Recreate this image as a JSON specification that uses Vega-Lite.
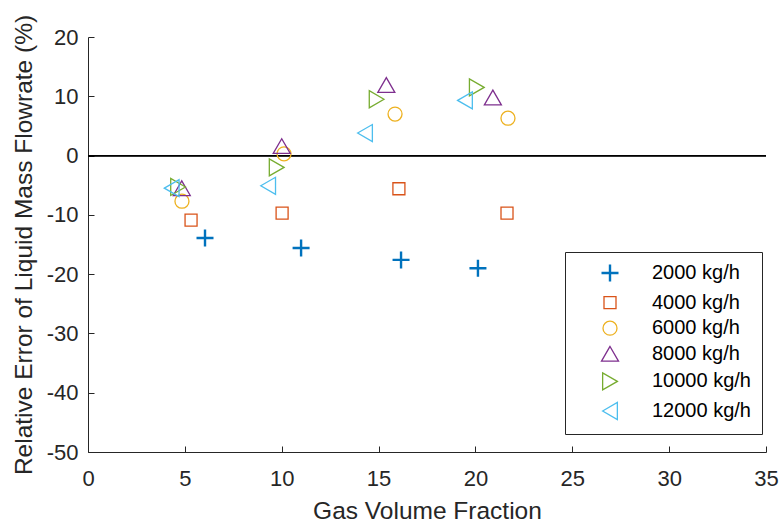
{
  "$schema": "https://vega.github.io/schema/vega-lite/v6.json",
  "width": 678,
  "height": 415,
  "autosize": {"type": "none"},
  "padding": {"left": 88, "top": 37, "right": 13, "bottom": 73},
  "background": "white",
  "config": {
    "view": {"stroke": null},
    "font": "Liberation Sans",
    "axis": {
      "domainColor": "#262626",
      "tickColor": "#262626",
      "labelColor": "#262626",
      "titleColor": "#262626",
      "labelFontSize": 22,
      "titleFontSize": 24.5,
      "titleFontWeight": "normal",
      "labelFlush": false,
      "labelOverlap": false,
      "grid": false,
      "tickSize": -6,
      "domainWidth": 1,
      "tickWidth": 1
    }
  },
  "data": {
    "values": [
      {"gvf": 6.04, "err": -13.9, "flow": "2000 kg/h"},
      {"gvf": 11.0, "err": -15.6, "flow": "2000 kg/h"},
      {"gvf": 16.16, "err": -17.6, "flow": "2000 kg/h"},
      {"gvf": 20.13, "err": -19.0, "flow": "2000 kg/h"},
      {"gvf": 5.32, "err": -10.9, "flow": "4000 kg/h"},
      {"gvf": 10.02, "err": -9.7, "flow": "4000 kg/h"},
      {"gvf": 16.05, "err": -5.6, "flow": "4000 kg/h"},
      {"gvf": 21.63, "err": -9.7, "flow": "4000 kg/h"},
      {"gvf": 4.85, "err": -7.7, "flow": "6000 kg/h"},
      {"gvf": 10.12, "err": 0.3, "flow": "6000 kg/h"},
      {"gvf": 15.85, "err": 7.0, "flow": "6000 kg/h"},
      {"gvf": 21.68, "err": 6.3, "flow": "6000 kg/h"},
      {"gvf": 4.84, "err": -5.5, "flow": "8000 kg/h"},
      {"gvf": 10.0, "err": 1.6, "flow": "8000 kg/h"},
      {"gvf": 15.4, "err": 11.9, "flow": "8000 kg/h"},
      {"gvf": 20.9, "err": 9.8, "flow": "8000 kg/h"},
      {"gvf": 4.65, "err": -5.3, "flow": "10000 kg/h"},
      {"gvf": 9.74, "err": -2.0, "flow": "10000 kg/h"},
      {"gvf": 14.9, "err": 9.5, "flow": "10000 kg/h"},
      {"gvf": 20.07, "err": 11.5, "flow": "10000 kg/h"},
      {"gvf": 4.32, "err": -5.5, "flow": "12000 kg/h"},
      {"gvf": 9.3, "err": -5.1, "flow": "12000 kg/h"},
      {"gvf": 14.3, "err": 3.8, "flow": "12000 kg/h"},
      {"gvf": 19.46, "err": 9.3, "flow": "12000 kg/h"}
    ]
  },
  "layer": [
    {
      "mark": {"type": "rule", "color": "black", "strokeWidth": 1},
      "encoding": {"y": {"datum": 0, "type": "quantitative"}}
    },
    {
      "mark": {"type": "point", "filled": false, "opacity": 1},
      "encoding": {
        "x": {
          "field": "gvf",
          "type": "quantitative",
          "title": "Gas Volume Fraction",
          "scale": {"domain": [0, 35], "nice": false, "zero": false},
          "axis": {"values": [0, 5, 10, 15, 20, 25, 30, 35], "labelPadding": 22, "titlePadding": 10}
        },
        "y": {
          "field": "err",
          "type": "quantitative",
          "title": "Relative Error of Liquid Mass Flowrate (%)",
          "scale": {"domain": [-50, 20], "nice": false, "zero": false},
          "axis": {
            "values": [-50, -40, -30, -20, -10, 0, 10, 20],
            "labelExpr": "datum.value < 0 ? '-' + abs(datum.value) : '' + datum.value",
            "labelPadding": 16,
            "titlePadding": 10
          }
        },
        "color": {
          "field": "flow",
          "type": "nominal",
          "scale": {
            "domain": ["2000 kg/h", "4000 kg/h", "6000 kg/h", "8000 kg/h", "10000 kg/h", "12000 kg/h"],
            "range": ["#0072BD", "#D95319", "#EDB120", "#7E2F8E", "#77AC30", "#4DBEEE"]
          },
          "legend": {
            "title": null,
            "orient": "none",
            "legendX": 477,
            "legendY": 215,
            "strokeColor": "#262626",
            "fillColor": "white",
            "padding": 11,
            "symbolOffset": 24,
            "labelOffset": 32,
            "labelFontSize": 20,
            "labelColor": "#000000",
            "rowPadding": 5.6,
            "labelLimit": 200
          }
        },
        "shape": {
          "field": "flow",
          "type": "nominal",
          "scale": {
            "domain": ["2000 kg/h", "4000 kg/h", "6000 kg/h", "8000 kg/h", "10000 kg/h", "12000 kg/h"],
            "range": ["M-1,0H1M0,-1V1", "square", "circle", "triangle-up", "triangle-right", "triangle-left"]
          }
        },
        "size": {
          "field": "flow",
          "type": "nominal",
          "scale": {
            "type": "ordinal",
            "domain": ["2000 kg/h", "4000 kg/h", "6000 kg/h", "8000 kg/h", "10000 kg/h", "12000 kg/h"],
            "range": [289, 144, 196, 289, 289, 289]
          }
        },
        "strokeWidth": {
          "field": "flow",
          "type": "nominal",
          "scale": {
            "type": "ordinal",
            "domain": ["2000 kg/h", "4000 kg/h", "6000 kg/h", "8000 kg/h", "10000 kg/h", "12000 kg/h"],
            "range": [2.4, 1.3, 1.3, 1.3, 1.3, 1.3]
          }
        }
      }
    }
  ]
}
